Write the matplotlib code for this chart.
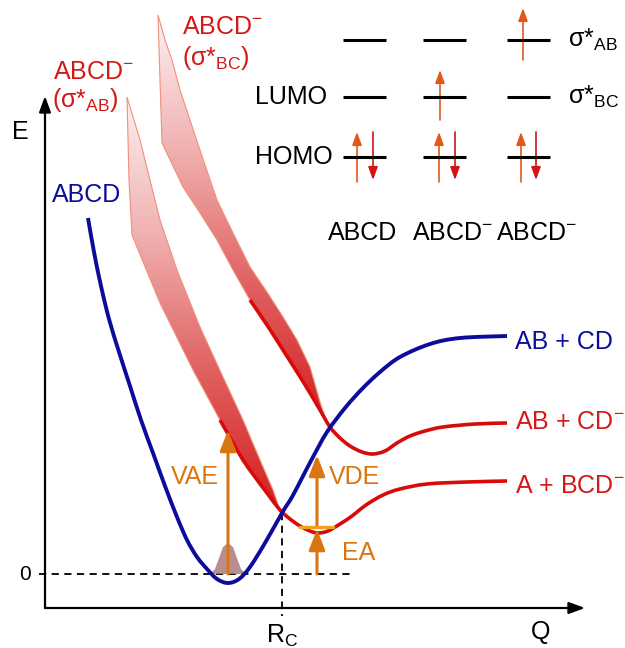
import matplotlib.pyplot as plt
import numpy as np
from matplotlib.colors import LinearSegmentedColormap
from matplotlib.patches import PathPatch, Polygon
from matplotlib.path import Path

plt.rcParams["font.family"] = ["Liberation Sans", "DejaVu Sans"]
plt.rcParams["mathtext.fontset"] = "custom"
plt.rcParams["mathtext.rm"] = "Liberation Sans"
plt.rcParams["mathtext.it"] = "Liberation Sans"
plt.rcParams["mathtext.bf"] = "Liberation Sans:bold"

BLUE = "#0c0c9c"
RED = "#d80a0a"
RED_TXT = "#d41818"
ORANGE = "#d9760f"
GOLD = "#f2a21b"
FS = 18

# neutral ABCD curve (Q, E in arbitrary units, E = 0 at the neutral minimum level)
neutral_q = [41, 47, 54, 62, 72, 83, 94, 106, 118, 130, 140, 150, 160, 170, 181,
             192, 203, 218, 235, 245, 255, 266, 280, 298, 315, 333, 353, 383, 413, 460]
neutral_e = [356, 322, 288, 255, 222, 188, 154, 121, 88, 57, 34, 17, 5, -5, -9,
             -5, 7, 31, 61, 77, 96, 117, 142, 166, 185, 202, 217, 230, 236, 238]

# anion curve dissociating to A + BCD-
anion_low_q = [173, 185, 196, 208, 220, 233, 243, 253, 263, 271, 281, 293, 305,
               319, 336, 353, 380, 420, 460]
anion_low_e = [154, 133, 114, 97, 81, 64, 55, 48, 43, 41, 43, 50, 58,
               69, 79, 85, 90, 92, 93]

# anion curve dissociating to AB + CD-
anion_up_q = [203, 220, 236, 250, 263, 273, 283, 293, 303, 315, 326, 338, 350,
              363, 378, 396, 428, 460]
anion_up_e = [274, 249, 224, 202, 181, 164, 147, 136, 128, 122, 120, 123, 131,
              138, 143, 147, 150, 151]

# shaded sigma*AB resonance band (right edge down, left edge back up)
sab_right_q = [80, 93, 103, 113, 130, 153, 176, 196, 213, 226, 233]
sab_right_e = [477, 434, 394, 354, 304, 247, 197, 154, 114, 84, 64]
sab_left_q = [220, 196, 173, 146, 113, 85, 82, 80]
sab_left_e = [81, 114, 154, 204, 271, 339, 394, 477]

# shaded sigma*BC resonance band
sbc_right_q = [111, 118, 125, 133, 143, 158, 170, 186, 203, 220, 236, 250, 263, 273, 280]
sbc_right_e = [559, 534, 514, 484, 454, 409, 374, 341, 307, 282, 257, 234, 207, 172, 151]
sbc_left_q = [263, 250, 236, 220, 203, 186, 170, 153, 136, 115, 113, 111]
sbc_left_e = [181, 202, 224, 249, 274, 304, 334, 361, 387, 431, 494, 559]

# vibrational ground-state density
wave_q = [163, 168, 172, 176, 181, 186, 190, 194, 199]
wave_e = [0, 5, 16, 27, 31, 27, 16, 5, 0]

# energy markers
vae_q, vae_top = 181, 144
vde_q, vde_bottom, vde_top = 270, 47, 119
ea_top = 45
anion_min_level = 47
r_c = 235
r_c_e = 61

# orbital diagram
mo_levels = [534, 477, 417]          # sigma*AB, LUMO (sigma*BC), HOMO
mo_left = [296, 376, 460]
mo_width = 43
mo_names = ["ABCD", "ABCD$^{-}$", "ABCD$^{-}$"]
mo_name_q = [316, 406, 490]
spin_up_q = [310, 392, 474, 393, 476]
spin_up_e = [(392, 442), (392, 442), (392, 442), (454, 504), (514, 566)]
spin_down_q = [326, 408, 489]
spin_down_e = [(442, 394), (442, 394), (442, 394)]


def smooth_curve(ax, q, e, **kw):
    # cubic Bezier through the listed points (Catmull-Rom tangents)
    pts = np.column_stack([q, e]).astype(float)
    n = len(pts)
    verts = [pts[0]]
    codes = [Path.MOVETO]
    for i in range(n - 1):
        p0 = pts[max(i - 1, 0)]
        p1, p2 = pts[i], pts[i + 1]
        p3 = pts[min(i + 2, n - 1)]
        verts += [p1 + (p2 - p0) / 6, p2 - (p3 - p1) / 6, p2]
        codes += [Path.CURVE4] * 3
    ax.add_patch(PathPatch(Path(verts, codes), fill=False, capstyle="butt", **kw))


def arrow(ax, q, e0, e1, color, lw, scale, hl, hw, q1=None):
    ax.annotate("", xy=(q if q1 is None else q1, e1), xytext=(q, e0),
                arrowprops=dict(arrowstyle=f"-|>,head_length={hl},head_width={hw}",
                                color=color, lw=lw, shrinkA=0, shrinkB=0,
                                mutation_scale=scale))


def band(ax, rq, re, lq, le, zorder=1):
    pts = list(zip(rq, re)) + list(zip(lq, le))
    poly = Polygon(pts, closed=True, facecolor="none", edgecolor="#f0907a",
                   lw=0.8, zorder=zorder + 0.1)
    ax.add_patch(poly)
    cmap = LinearSegmentedColormap.from_list("band", ["#fdf1f1", "#f0b0b0", "#e06060", "#d41e1e"])
    qs = rq + lq
    es = re + le
    img = ax.imshow(np.linspace(1, 0, 256).reshape(-1, 1), cmap=cmap, aspect="auto",
                    origin="lower", extent=[min(qs), max(qs), min(es), max(es)],
                    zorder=zorder, interpolation="bilinear")
    img.set_clip_path(poly)


fig = plt.figure(figsize=(6.25, 6.48), dpi=100)
ax = fig.add_axes([0, 0, 1, 1])
ax.set_xlim(-47, 578)
ax.set_ylim(-74, 574)
ax.axis("off")

band(ax, sbc_right_q, sbc_right_e, sbc_left_q, sbc_left_e)
band(ax, sab_right_q, sab_right_e, sab_left_q, sab_left_e)

# axes
arrow(ax, -2, -34, 478, "black", 1.6, 16, 0.6, 0.22)
arrow(ax, -2, -34, -34, "black", 1.6, 16, 0.6, 0.22, q1=538)
ax.text(-27, 442, "E", fontsize=FS, ha="center", va="center")
ax.text(494, -58, "Q", fontsize=FS, ha="center", va="center")
ax.text(-22, 0, "0", fontsize=FS - 3, ha="center", va="center")
ax.text(r_c, -62, "R$_{\\mathrm{C}}$", fontsize=FS, ha="center", va="center")

# reference lines
ax.plot([-8, 303], [0, 0], ls=(0, (4, 3)), color="black", lw=1.3, zorder=2)
ax.plot([r_c, r_c], [r_c_e, -42], ls=(0, (4, 3)), color="black", lw=1.3, zorder=2)

ax.fill(wave_q, wave_e, color="#ad7a7a", alpha=0.85, lw=0, zorder=2)

smooth_curve(ax, anion_low_q, anion_low_e, color=RED, lw=2.6, zorder=3)
smooth_curve(ax, anion_up_q, anion_up_e, color=RED, lw=2.6, zorder=3)
smooth_curve(ax, neutral_q, neutral_e, color=BLUE, lw=2.8, zorder=4)

# VAE / VDE / EA
arrow(ax, vae_q, 0, vae_top, ORANGE, 2.2, 18, 0.7, 0.27)
ax.plot([vde_q - 17, vde_q + 16], [anion_min_level] * 2, color=GOLD, lw=2.4, zorder=5)
arrow(ax, vde_q, vde_bottom, vde_top, ORANGE, 2.2, 18, 0.7, 0.27)
arrow(ax, vde_q, 0, ea_top, ORANGE, 2.2, 18, 0.7, 0.27)
ax.text(148, 97, "VAE", fontsize=FS, color=ORANGE, ha="center", va="center")
ax.text(308, 97, "VDE", fontsize=FS, color=ORANGE, ha="center", va="center")
ax.text(312, 21, "EA", fontsize=FS, color=ORANGE, ha="center", va="center")

# curve labels
ax.text(5, 379, "ABCD", fontsize=FS, color=BLUE, ha="left", va="center")
ax.text(6, 502, "ABCD$^{-}$", fontsize=FS, color=RED_TXT, ha="left", va="center")
ax.text(5, 474, "(σ*$_{\\mathrm{AB}}$)", fontsize=FS, color=RED_TXT, ha="left", va="center")
ax.text(135, 547, "ABCD$^{-}$", fontsize=FS, color=RED_TXT, ha="left", va="center")
ax.text(135, 516, "(σ*$_{\\mathrm{BC}}$)", fontsize=FS, color=RED_TXT, ha="left", va="center")
ax.text(468, 232, "AB + CD", fontsize=FS, color=BLUE, ha="left", va="center")
ax.text(468, 152, "AB + CD$^{-}$", fontsize=FS, color=RED_TXT, ha="left", va="center")
ax.text(468, 88, "A + BCD$^{-}$", fontsize=FS, color=RED_TXT, ha="left", va="center")

# orbital occupation diagram
for left in mo_left:
    for lev in mo_levels:
        ax.plot([left, left + mo_width], [lev, lev], color="black", lw=2.2,
                solid_capstyle="butt", zorder=5)
for q, (e0, e1) in zip(spin_up_q, spin_up_e):
    arrow(ax, q, e0, e1, "#e2581c", 1.2, 13, 0.6, 0.22)
for q, (e0, e1) in zip(spin_down_q, spin_down_e):
    arrow(ax, q, e0, e1, "#d01414", 1.2, 13, 0.6, 0.22)
ax.text(208, mo_levels[1], "LUMO", fontsize=FS, ha="left", va="center")
ax.text(208, mo_levels[2], "HOMO", fontsize=FS, ha="left", va="center")
ax.text(521, mo_levels[0], "σ*$_{\\mathrm{AB}}$", fontsize=FS, ha="left", va="center")
ax.text(521, mo_levels[1], "σ*$_{\\mathrm{BC}}$", fontsize=FS, ha="left", va="center")
for q, name in zip(mo_name_q, mo_names):
    ax.text(q, 341, name, fontsize=FS, ha="center", va="center")

fig.savefig("out.png", dpi=100)
